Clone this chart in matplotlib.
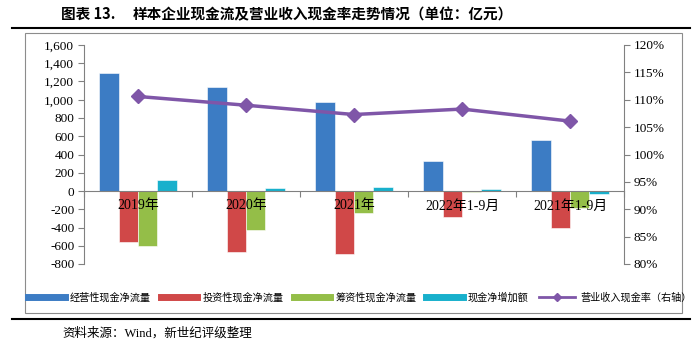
import numpy as np
import matplotlib
matplotlib.use("Agg")
import matplotlib.pyplot as plt
from matplotlib.lines import Line2D
from matplotlib.patches import Rectangle
from matplotlib.ticker import FuncFormatter, FixedLocator, NullFormatter

plt.rcParams['font.family'] = ['Liberation Serif', 'Noto Sans CJK SC']

categories = ['2019年', '2020年', '2021年', '2022年1-9月', '2021年1-9月']
operating = [1290, 1145, 980, 332, 561]
investing = [-561, -671, -689, -288, -408]
financing = [-598, -426, -244, -10, -186]
net_change = [120, 33, 40, 22, -36]
cash_ratio = [110.6, 109.0, 107.3, 108.3, 106.1]

series_names = ['经营性现金净流量', '投资性现金净流量', '筹资性现金净流量', '现金净增加额']
colors = ['#3C7CC4', '#D04848', '#94BE48', '#18B0CC']
line_name = '营业收入现金率（右轴）'
line_color = '#7F56A8'

W, H = 700, 347
fig = plt.figure(figsize=(W / 100, H / 100), dpi=100)

def fx(px):
    return px / W

def fy(py):
    return 1 - py / H

# frame lines and box
fig.add_artist(Line2D([fx(12), fx(690)], [fy(28), fy(28)], color='black', lw=1.5))
fig.add_artist(Line2D([fx(12), fx(690)], [fy(319), fy(319)], color='black', lw=1.5))
fig.add_artist(Rectangle((fx(25), fy(313)), fx(682) - fx(25), fy(33) - fy(313),
                         fill=False, edgecolor='#8c8c8c', lw=0.8))

fig.text(fx(61), fy(14), '图表 13.', fontsize=10.5, va='center', ha='left',
         family=['Noto Sans CJK SC'], weight='bold')
fig.text(fx(133), fy(14), '样本企业现金流及营业收入现金率走势情况（单位：亿元）', fontsize=10.5,
         va='center', ha='left', family=['Noto Sans CJK SC'], weight='bold')
fig.text(fx(62), fy(333), '资料来源：Wind，新世纪评级整理', fontsize=9, va='center', ha='left')

ax = fig.add_axes([fx(84), fy(264), fx(624) - fx(84), fy(45) - fy(264)])
ax2 = ax.twinx()

x = np.arange(len(categories))
w = 0.18
data = [operating, investing, financing, net_change]
for i, (vals, c) in enumerate(zip(data, colors)):
    ax.bar(x + (i - 1.5) * w, vals, width=w, color=c, edgecolor='white', linewidth=0.4, zorder=2)

ax.set_xlim(-0.5, len(categories) - 0.5)
ax.set_ylim(-800, 1600)
ax.set_yticks(np.arange(-800, 1601, 200))
ax.yaxis.set_major_formatter(FuncFormatter(lambda v, p: f'{v:,.0f}'))
ax.tick_params(axis='y', direction='out', length=4, width=0.8, color='#808080', labelsize=9.5, pad=3)

for s in ['top', 'right']:
    ax.spines[s].set_visible(False)
ax.spines['left'].set_color('#808080')
ax.spines['bottom'].set_position(('data', 0))
ax.spines['bottom'].set_color('#808080')
ax.spines['bottom'].set_zorder(3)
ax.xaxis.set_major_locator(FixedLocator(np.arange(-0.5, len(categories), 1.0)))
ax.xaxis.set_major_formatter(NullFormatter())
ax.tick_params(axis='x', which='major', direction='out', length=4, width=0.8, color='#808080')

# category labels sit just under the zero line, over the bars
for xi, lab in zip(x, categories):
    ax.annotate(lab, (xi, 0), xytext=(0, -15), textcoords='offset pixels',
                ha='center', va='center', fontsize=10, zorder=5)

ax2.plot(x, cash_ratio, color=line_color, lw=2.5, marker='D', markersize=7, zorder=3)
ax2.set_ylim(80, 120)
ax2.set_yticks(np.arange(80, 121, 5))
ax2.yaxis.set_major_formatter(FuncFormatter(lambda v, p: f'{v:.0f}%'))
ax2.tick_params(axis='y', direction='out', length=4, width=0.8, color='#808080', labelsize=9.5, pad=3)
for s in ['top', 'left', 'bottom']:
    ax2.spines[s].set_visible(False)
ax2.spines['right'].set_color('#808080')

handles = [Line2D([0], [0], color=c, lw=5) for c in colors]
handles.append(Line2D([0], [0], color=line_color, lw=2, marker='D', markersize=4))
fig.legend(handles, series_names + [line_name], loc='center', bbox_to_anchor=(fx(360), fy(297)),
           ncol=5, frameon=False, handlelength=3.6, handletextpad=0.5,
           columnspacing=1.0, prop={'family': ['Noto Sans CJK SC'], 'size': 7.3})

fig.savefig('out.png', dpi=100)
